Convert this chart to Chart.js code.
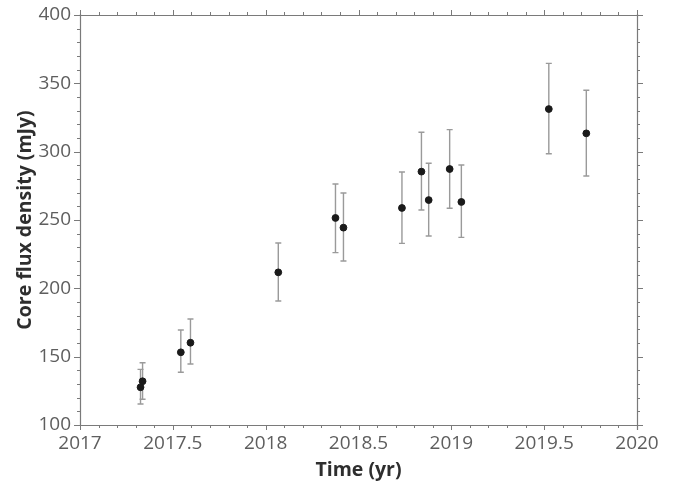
<!DOCTYPE html>
<html>
<head>
<meta charset="utf-8">
<script src="https://cdn.jsdelivr.net/npm/chart.js@4/dist/chart.umd.min.js"></script>
<style>
  html, body { margin: 0; padding: 0; background: #ffffff; }
  #wrap { width: 687px; height: 486px; }
</style>
</head>
<body>
<div id="wrap"><canvas id="c" width="687" height="486"></canvas></div>
<script>
// Observation epochs (decimal year) and core flux density (mJy)
const epochs = [2017.326, 2017.337, 2017.543, 2017.595, 2018.068, 2018.376, 2018.419,
                2018.734, 2018.839, 2018.878, 2018.991, 2019.054, 2019.525, 2019.727];
const flux = [127.6, 132.0, 153.2, 160.2, 211.7, 251.5, 244.4,
              258.8, 285.4, 264.6, 287.3, 263.2, 331.2, 313.4];
// Upper and lower ends of each error bar (mJy)
const fluxUpper = [140.7, 145.6, 169.5, 177.6, 233.2, 276.3, 269.8,
                   285.1, 314.2, 291.5, 316.1, 290.2, 364.6, 344.9];
const fluxLower = [115.4, 118.8, 138.6, 144.6, 190.7, 226.1, 220.0,
                   232.9, 257.3, 238.3, 258.6, 237.3, 298.5, 282.2];

// Axis ranges and tick spacing
const xRange = [2017, 2020];
const xMinorStep = 0.1;
const xMajorStep = 0.5;
const yRange = [100, 400];
const yMinorStep = 10;
const yMajorStep = 50;

const FONT = "'Open Sans', 'DejaVu Sans', sans-serif";
const AXIS_COLOR = '#7a7a7a';

function isMultiple(v, step) {
  const q = v / step;
  return Math.abs(q - Math.round(q)) < 1e-6;
}

// Error bars with caps, drawn under the markers
const errorBars = {
  id: 'errorBars',
  beforeDatasetsDraw(chart) {
    const { ctx, scales: { x, y } } = chart;
    ctx.save();
    ctx.strokeStyle = '#9a9a9a';
    ctx.lineWidth = 1.4;
    for (let i = 0; i < epochs.length; i++) {
      const px = x.getPixelForValue(epochs[i]);
      const yt = y.getPixelForValue(fluxUpper[i]);
      const yb = y.getPixelForValue(fluxLower[i]);
      ctx.beginPath();
      ctx.moveTo(px, yt); ctx.lineTo(px, yb);
      ctx.moveTo(px - 3, yt); ctx.lineTo(px + 3, yt);
      ctx.moveTo(px - 3, yb); ctx.lineTo(px + 3, yb);
      ctx.stroke();
    }
    ctx.restore();
  }
};

// Box frame with outward major/minor ticks on all four sides
const frameTicks = {
  id: 'frameTicks',
  beforeDatasetsDraw(chart) {
    const { ctx, chartArea: a, scales: { x, y } } = chart;
    ctx.save();
    ctx.strokeStyle = AXIS_COLOR;
    ctx.lineWidth = 1.2;
    ctx.beginPath();
    ctx.moveTo(a.left - 1, a.bottom + 0.5); ctx.lineTo(a.right + 5, a.bottom + 0.5);
    ctx.moveTo(a.left - 1, a.top + 0.5); ctx.lineTo(a.right + 5, a.top + 0.5);
    ctx.moveTo(a.left + 0.5, a.top - 1); ctx.lineTo(a.left + 0.5, a.bottom + 1);
    ctx.moveTo(a.right + 0.5, a.top - 1); ctx.lineTo(a.right + 0.5, a.bottom + 5);
    ctx.stroke();
    ctx.lineWidth = 1;
    ctx.beginPath();
    x.ticks.forEach(t => {
      const len = isMultiple(t.value, xMajorStep) ? 5 : 3;
      const px = Math.round(x.getPixelForValue(t.value)) + 0.5;
      ctx.moveTo(px, a.bottom); ctx.lineTo(px, a.bottom + len);
      ctx.moveTo(px, a.top); ctx.lineTo(px, a.top - len);
    });
    y.ticks.forEach(t => {
      const len = isMultiple(t.value, yMajorStep) ? 6 : 3;
      const py = Math.round(y.getPixelForValue(t.value)) + 0.5;
      ctx.moveTo(a.left, py); ctx.lineTo(a.left - len, py);
      ctx.moveTo(a.right, py); ctx.lineTo(a.right + len, py);
    });
    ctx.stroke();
    ctx.restore();
  }
};

new Chart(document.getElementById('c'), {
  type: 'scatter',
  data: {
    datasets: [{
      data: epochs.map((t, i) => ({ x: t, y: flux[i] })),
      backgroundColor: '#1a1a1a',
      borderColor: '#1a1a1a',
      pointRadius: 3.4,
      pointHoverRadius: 3.4
    }]
  },
  options: {
    responsive: false,
    animation: false,
    events: [],
    layout: { padding: { top: 15, right: 50, left: 0, bottom: 0 } },
    plugins: { legend: { display: false }, tooltip: { enabled: false } },
    scales: {
      x: {
        type: 'linear',
        min: xRange[0], max: xRange[1],
        afterFit(s) { s.height = 61; },
        grid: { display: true, drawOnChartArea: false, drawTicks: true, tickLength: 5, tickColor: 'rgba(0,0,0,0)' },
        border: { display: false },
        ticks: {
          stepSize: xMinorStep, autoSkip: false, maxRotation: 0, padding: 2,
          color: '#5e5e5e', font: { family: FONT, size: 19 },
          callback: v => isMultiple(v, xMajorStep) ? String(Math.round(v * 10) / 10) : ''
        },
        title: {
          display: true, text: 'Time (yr)', color: '#2e2e2e',
          font: { family: FONT, size: 19.5, weight: 'bold' },
          padding: { top: 0, bottom: 4 }
        }
      },
      y: {
        type: 'linear',
        min: yRange[0], max: yRange[1],
        afterFit(s) { s.width = 80; },
        grid: { display: true, drawOnChartArea: false, drawTicks: true, tickLength: 6, tickColor: 'rgba(0,0,0,0)' },
        border: { display: false },
        ticks: {
          stepSize: yMinorStep, autoSkip: false, padding: 3,
          color: '#5e5e5e', font: { family: FONT, size: 19 },
          callback: v => isMultiple(v, yMajorStep) ? String(v) : ''
        },
        title: {
          display: true, text: 'Core flux density (mJy)', color: '#2e2e2e',
          font: { family: FONT, size: 19.5, weight: 'bold' },
          padding: { top: 14, bottom: 0 }
        }
      }
    }
  },
  plugins: [errorBars, frameTicks]
});
</script>
</body>
</html>
